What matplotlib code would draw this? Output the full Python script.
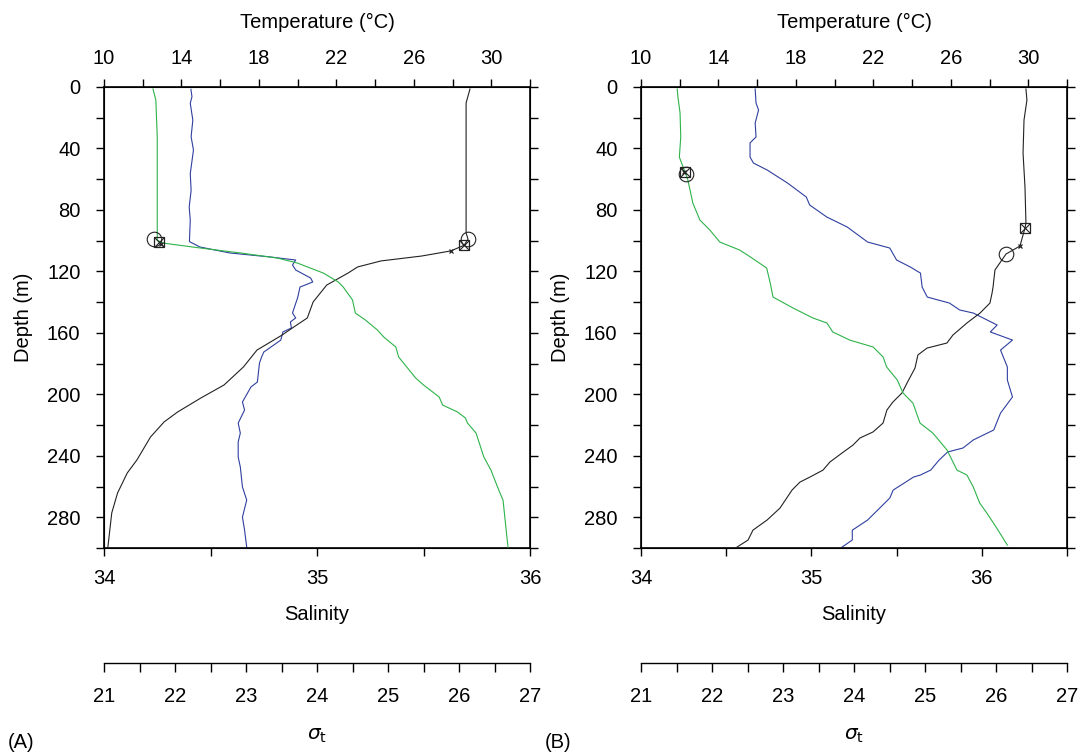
import numpy as np
import matplotlib
matplotlib.use("Agg")
import matplotlib.pyplot as plt

plt.rcParams['font.family'] = ['Liberation Sans', 'DejaVu Sans']
plt.rcParams['font.size'] = 14.5

BLACK = '#222222'
BLUE = '#2f3f9f'
GREEN = '#2db34a'

# ---- panel A profiles (depth in m) ----
a_temp_depth = [1.3, 10.4, 50, 95, 99, 103, 106.7, 110.0, 113.2, 117.1, 121.1, 128.9, 139.9, 150.3, 156.2,
                161.4, 171.2, 182.2, 193.9, 202.4, 211.5, 218.0, 227.8, 242.7, 251.2, 264.2, 277.2, 299.4]
a_temp = [28.9, 28.7, 28.7, 28.7, 28.8, 28.6, 27.9, 26.4, 24.3, 23.1, 22.6, 21.5, 20.8, 20.5, 19.8,
          19.2, 17.9, 17.2, 16.2, 15.0, 13.8, 13.1, 12.4, 11.7, 11.2, 10.7, 10.4, 10.2]

a_sal_depth = [1.5, 6.3, 10.6, 21.5, 32.4, 41, 56.4, 67.3, 78.1, 86.6, 100.6, 104.1, 108, 110.6, 112.6,
               115.8, 119.1, 124.3, 126.9, 130.2, 136.7, 147.1, 150.3, 152.9, 156.8, 159.4, 164.7, 172.5,
               175.7, 179.6, 192, 195.2, 205, 210.2, 218.7, 225.2, 231, 240.8, 247.3, 260.3, 268.8,
               279.9, 288.4, 299.4]
a_sal = [34.408, 34.413, 34.405, 34.417, 34.409, 34.420, 34.405, 34.409, 34.400, 34.405, 34.401, 34.45,
         34.59, 34.78, 34.90, 34.885, 34.90, 34.97, 34.98, 34.92, 34.91, 34.885, 34.90, 34.875, 34.88,
         34.84, 34.83, 34.75, 34.74, 34.73, 34.72, 34.69, 34.65, 34.66, 34.63, 34.64, 34.63, 34.63, 34.64,
         34.65, 34.67, 34.65, 34.66, 34.67]

a_sig_depth = [1.3, 8.5, 32.5, 95, 99.6, 101.5, 104.8, 108, 111.3, 114.5, 121.1, 126.9, 130.2, 138.6,
               147.1, 151.6, 158.1, 162.7, 169.2, 175.7, 189.4, 193.9, 201.7, 207, 211.5, 215.4, 218.7,
               225.2, 240.8, 249.3, 262.3, 268.8, 286.4, 299.4]
a_sig = [21.69, 21.73, 21.75, 21.75, 21.75, 21.82, 22.36, 22.92, 23.44, 23.72, 24.09, 24.30, 24.37,
         24.50, 24.54, 24.68, 24.85, 24.94, 25.11, 25.15, 25.39, 25.50, 25.72, 25.77, 25.98, 26.09,
         26.12, 26.24, 26.35, 26.45, 26.56, 26.62, 26.66, 26.69]

# ---- panel B profiles ----
b_temp_depth = [1.3, 8.5, 21.5, 43, 65.1, 88.5, 91.8, 103.5, 108.7, 119.1, 130.2, 134.1, 140.6, 147.1,
                153.6, 161.4, 166.6, 169.9, 174.4, 182.9, 192.6, 199.1, 205, 210.2, 218.7, 224.5, 228.4,
                233, 238.2, 244, 249.3, 253.8, 257.1, 262.3, 274, 281.8, 288.4, 294.8, 299.4]
b_temp = [29.88, 29.93, 29.78, 29.73, 29.83, 29.88, 29.83, 29.57, 28.85, 28.28, 28.18, 28.13, 28.02,
          27.51, 26.83, 26.11, 25.80, 24.77, 24.30, 24.15, 23.74, 23.48, 23.01, 22.70, 22.50, 21.98,
          21.31, 20.95, 20.38, 19.76, 19.40, 18.73, 18.21, 17.80, 17.18, 16.51, 15.78, 15.53, 14.96]

b_sal_depth = [1.3, 10.4, 15, 23.4, 32.5, 36.4, 45.6, 49.5, 54, 62.5, 71.6, 76.8, 84.6, 91.1, 100.9,
               104.8, 112.6, 117.1, 121.1, 130.2, 136.7, 140.6, 145.1, 147.1, 154.9, 159.4, 164.7, 171.2,
               182.2, 190.7, 201.7, 212.2, 223.2, 229.7, 234.9, 237.5, 242.7, 249.3, 252.5, 253.8, 262.3,
               267.5, 281.8, 288.4, 294.8, 299.4]
b_sal = [34.67, 34.675, 34.69, 34.67, 34.675, 34.64, 34.64, 34.66, 34.74, 34.86, 34.97, 34.99, 35.09,
         35.21, 35.33, 35.46, 35.50, 35.58, 35.64, 35.65, 35.68, 35.81, 35.87, 35.95, 36.09, 36.05, 36.18,
         36.11, 36.15, 36.15, 36.18, 36.11, 36.07, 35.95, 35.89, 35.80, 35.75, 35.70, 35.64, 35.60, 35.48,
         35.46, 35.33, 35.24, 35.24, 35.18]

b_sig_depth = [1.3, 6.5, 16.9, 32.5, 45.6, 56.6, 60.5, 75.5, 86.6, 93.1, 100.9, 106.1, 110.6, 117.8,
               127.6, 136.7, 143.8, 150.3, 153.6, 159.4, 164.7, 169.2, 175.7, 182.2, 190.7, 199.1, 205.7,
               218.7, 225.2, 236.2, 249.3, 252.5, 260.3, 270.7, 277.2, 287, 298.1]
b_sig = [21.51, 21.52, 21.55, 21.56, 21.54, 21.63, 21.66, 21.73, 21.83, 21.97, 22.11, 22.39, 22.54,
         22.77, 22.82, 22.86, 23.14, 23.42, 23.62, 23.70, 23.94, 24.27, 24.41, 24.46, 24.61, 24.69, 24.83,
         24.93, 25.11, 25.31, 25.45, 25.59, 25.68, 25.77, 25.87, 26.01, 26.16]

# mixed layer markers: (value, depth) for circle, boxed cross, small cross
a_temp_marks = [(28.8, 99), (28.6, 103), (27.9, 107)]
a_sig_marks = [(21.71, 99), (21.78, 101), (21.80, 102)]
b_temp_marks = [(28.85, 108.7), (29.83, 91.8), (29.57, 103.5)]
b_sig_marks = [(21.63, 56.6), (21.62, 55.3), (21.61, 55.0)]

sal_ticks_a = [34, 34.5, 35, 35.5, 36]
sal_ticks_b = [34, 34.5, 35, 35.5, 36, 36.5]

W, H = 1083, 754
fig = plt.figure(figsize=(W / 100, H / 100), dpi=100)


def fx(px):
    return px / W


def fy(py):
    return 1 - py / H


def draw_marks(ax, marks):
    (cx, cy), (sx, sy), (xx, xy) = marks
    ax.plot(cx, cy, 'o', ms=10.5, mfc='none', mec=BLACK, mew=0.8, zorder=5)
    ax.plot(sx, sy, 's', ms=7, mfc='none', mec=BLACK, mew=0.9, zorder=5)
    ax.plot(sx, sy, 'x', ms=7, mec=BLACK, mew=0.8, zorder=5)
    ax.plot(xx, xy, 'x', ms=3.5, mec=BLACK, mew=0.9, zorder=5)


def panel(left_px, sal_max, sal_ticks, temp, sal, sig, tmarks, smarks, tag):
    ax = fig.add_axes([fx(left_px), fy(548), 426 / W, 461 / H])
    ax.set_ylim(300, 0)
    ax.set_xlim(34, sal_max)
    ax.set_xticks(sal_ticks)
    ax.set_xticklabels([str(int(t)) if t == int(t) else '' for t in sal_ticks])
    ax.set_yticks(range(0, 301, 20))
    ax.set_yticklabels([str(d) if d % 40 == 0 and d < 300 else '' for d in range(0, 301, 20)])
    ax.tick_params(direction='out', length=6, width=1, right=True)
    ax.tick_params(axis='x', pad=9)
    ax.tick_params(axis='y', pad=11)
    ax.set_xlabel('Salinity', labelpad=12)
    ax.set_ylabel('Depth (m)', labelpad=10)
    for s in ax.spines.values():
        s.set_linewidth(1.2)

    axt = ax.twiny()
    axt.set_xlim(10, 32)
    axt.set_xticks(range(10, 33, 2))
    axt.set_xticklabels([str(t) if (t - 10) % 4 == 0 and t < 32 else '' for t in range(10, 33, 2)])
    axt.tick_params(direction='out', length=6, width=1, pad=8)
    axt.set_xlabel('Temperature (°C)', labelpad=15)

    axg = ax.twiny()
    axg.set_xlim(21, 27)
    axg.axis('off')

    ax.plot(sal[1], sal[0], color=BLUE, lw=0.8)
    axt.plot(temp[1], temp[0], color=BLACK, lw=0.8)
    axg.plot(sig[1], sig[0], color=GREEN, lw=0.8)
    draw_marks(axt, tmarks)
    draw_marks(axg, smarks)

    # separate sigma-t scale
    axs = fig.add_axes([fx(left_px), fy(663), 426 / W, 0.0001])
    axs.set_xlim(21, 27)
    axs.set_xticks(np.arange(21, 27.01, 0.5))
    axs.set_xticklabels([str(int(t)) if t == int(t) else '' for t in np.arange(21, 27.01, 0.5)])
    axs.tick_params(axis='x', direction='out', length=6.5, width=1, pad=10.5)
    axs.set_yticks([])
    for k in ('top', 'left', 'right'):
        axs.spines[k].set_visible(False)
    axs.spines['bottom'].set_linewidth(1)
    axs.set_xlabel(r'$\sigma_{\rm t}$', labelpad=15)

    fig.text(fx(left_px - 96), fy(742), tag, ha='left', va='center')


panel(104, 36, sal_ticks_a, (a_temp_depth, a_temp), (a_sal_depth, a_sal), (a_sig_depth, a_sig),
      a_temp_marks, a_sig_marks, '(A)')
panel(641, 36.5, sal_ticks_b, (b_temp_depth, b_temp), (b_sal_depth, b_sal), (b_sig_depth, b_sig),
      b_temp_marks, b_sig_marks, '(B)')

fig.savefig('out.png', dpi=100)
